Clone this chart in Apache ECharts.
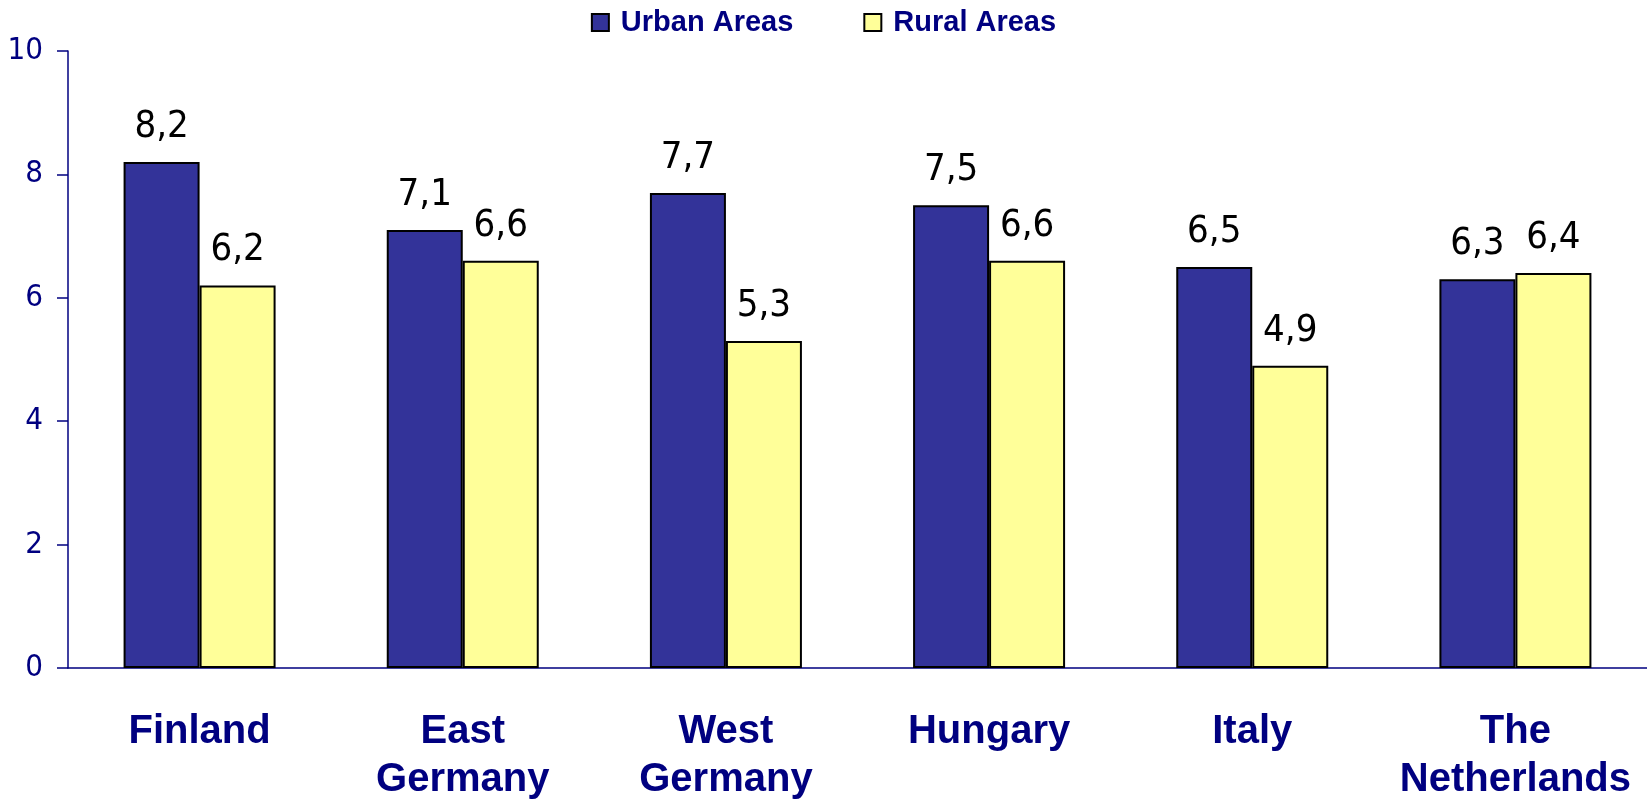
<!DOCTYPE html>
<html lang="en">

<head>
    <meta charset="UTF-8">
    <title>Urban vs Rural Areas</title>
    <script src="https://cdn.jsdelivr.net/npm/echarts@6/dist/echarts.min.js"></script>
    <style>
        body {
            overflow: hidden;
            padding: 0;
            margin: 0;
            background: #fff;
        }
    </style>
</head>

<body>
    <div id="main" style="width: 1647px;height:800px;"></div>
</body>
<script>
    var categories = ['Finland', 'East\nGermany', 'West\nGermany', 'Hungary', 'Italy', 'The\nNetherlands'];
    var urban = [8.2, 7.1, 7.7, 7.5, 6.5, 6.3];
    var rural = [6.2, 6.6, 5.3, 6.6, 4.9, 6.4];
    var seriesNames = ['Urban Areas', 'Rural Areas'];

    var navy = '#000080';
    var narrow = "'Liberation Sans Narrow', 'DejaVu Sans Condensed', sans-serif";
    var app = echarts.init(document.getElementById('main'));

    // value labels use a comma as decimal separator
    var valueLabel = {
        show: true,
        position: 'top',
        distance: 16,
        fontFamily: narrow,
        fontSize: 38,
        color: '#000',
        formatter: function(p) {
            return p.value.toFixed(1).replace('.', ',');
        }
    };

    var option = {
        animation: false,
        legend: {
            top: 8,
            left: 'center',
            padding: 0,
            icon: 'rect',
            itemWidth: 17,
            itemHeight: 17,
            itemGap: 70,
            textStyle: {
                fontFamily: "'Liberation Sans', Arial, sans-serif",
                fontWeight: 'bold',
                fontSize: 29,
                color: navy,
                padding: [0, 0, 0, 7]
            },
            data: seriesNames
        },
        grid: {
            left: 68,
            right: 0,
            top: 51,
            bottom: 132,
            outerBoundsMode: 'none',
            containLabel: false
        },
        xAxis: {
            type: 'category',
            data: categories,
            axisLine: {
                lineStyle: { color: navy, width: 1.5 }
            },
            axisTick: { show: false },
            axisLabel: {
                margin: 40,
                interval: 0,
                fontFamily: "'Liberation Sans', Arial, sans-serif",
                fontWeight: 'bold',
                fontSize: 40,
                lineHeight: 48,
                color: navy
            }
        },
        yAxis: {
            type: 'value',
            min: 0,
            max: 10,
            interval: 2,
            splitLine: { show: false },
            axisLine: {
                show: true,
                lineStyle: { color: navy, width: 1.5 }
            },
            axisTick: {
                show: true,
                length: 11,
                lineStyle: { color: navy, width: 1.5 }
            },
            axisLabel: {
                margin: 25,
                fontFamily: narrow,
                fontSize: 31,
                color: navy
            }
        },
        series: [{
            name: seriesNames[0],
            type: 'bar',
            barWidth: 76,
            barGap: '0%',
            itemStyle: { color: '#333399', borderColor: '#000', borderWidth: 2 },
            label: valueLabel,
            data: urban
        }, {
            name: seriesNames[1],
            type: 'bar',
            barWidth: 76,
            barGap: '0%',
            itemStyle: { color: '#FFFF99', borderColor: '#000', borderWidth: 2 },
            label: valueLabel,
            data: rural
        }]
    };
    app.setOption(option);
</script>

</html>
